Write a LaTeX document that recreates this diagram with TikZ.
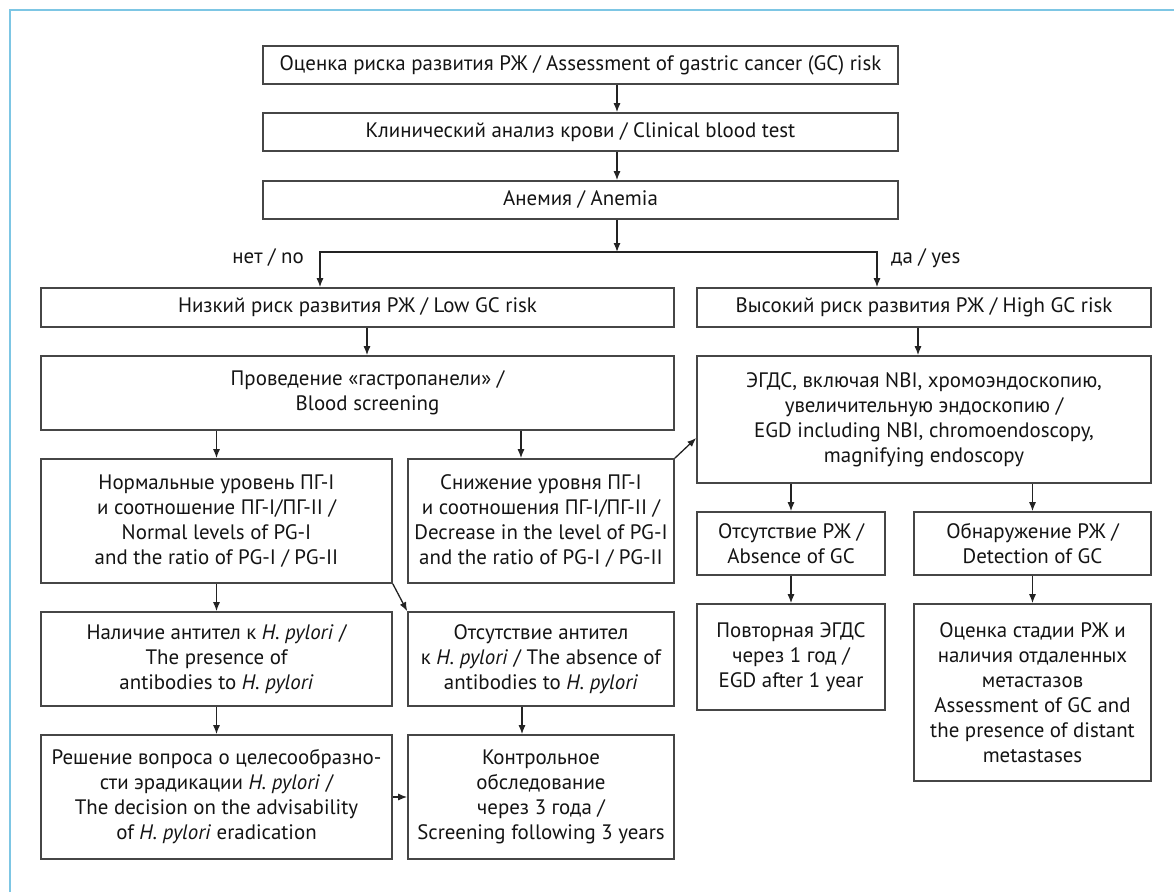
\documentclass[tikz,border=0pt]{standalone}
\usepackage{fontspec}
\setmainfont{PT Sans}
\usetikzlibrary{arrows.meta,calc}
\definecolor{boxgray}{RGB}{70,70,70}
\definecolor{arrgray}{RGB}{35,35,35}
\definecolor{txt}{RGB}{20,20,20}
\definecolor{framec}{RGB}{125,198,228}
\newcommand\myfont{\fontsize{20.9}{25}\selectfont}
\tikzset{
  box/.style={draw=boxgray, line width=1.6pt, fill=white, align=center, inner sep=0pt, text=txt, font=\myfont},
  arr/.style={draw=arrgray, line width=1.3pt, -{Latex[length=9pt,width=7pt]}},
  frameline/.style={draw=framec, line width=2pt},
  lbl/.style={text=txt, font=\myfont, inner sep=0pt}
}
\begin{document}
\begin{tikzpicture}[x=1pt,y=-1pt]
\useasboundingbox[fill=white] (0,0) rectangle (1174,892);
\draw[frameline] (10,892) -- (10,10) -- (1174,10);

\node[box, minimum width=635pt, minimum height=38pt] (b1) at (580.5,65) {Оценка риска развития РЖ / Assessment of gastric cancer (GC) risk};
\node[box, minimum width=635pt, minimum height=38pt] (b2) at (580.5,132) {Клинический анализ крови / Clinical blood test};
\node[box, minimum width=635pt, minimum height=38pt] (b3) at (580.5,200) {Анемия / Anemia};

\node[box, minimum width=633pt, minimum height=39pt] (low) at (357.5,307.5) {Низкий риск развития РЖ / Low GC risk};
\node[box, minimum width=454pt, minimum height=39pt] (high) at (924,307.5) {Высокий риск развития РЖ / High GC risk};

\node[box, minimum width=633pt, minimum height=74pt] (gastro) at (357.5,393) {\hspace*{20pt}Проведение «гастропанели» /\\\hspace*{20pt}Blood screening};
\node[box, minimum width=454pt, minimum height=127pt] (egd) at (924,419.5) {ЭГДС, включая NBI, хромоэндоскопию,\\увеличительную эндоскопию /\\EGD including NBI, chromoendoscopy,\\magnifying endoscopy};

\node[box, minimum width=351pt, minimum height=124pt] (normal) at (216.5,521) {Нормальные уровень ПГ-I\\и соотношение ПГ-I/ПГ-II /\\Normal levels of PG-I\\and the ratio of PG-I / PG-II};
\node[box, minimum width=266pt, minimum height=124pt] (decr) at (541,521) {Снижение уровня ПГ-I\\и соотношения ПГ-I/ПГ-II /\\Decrease in the level of PG-I\\and the ratio of PG-I / PG-II};

\node[box, minimum width=188pt, minimum height=63pt] (absgc) at (791,543.5) {Отсутствие РЖ /\\Absence of GC};
\node[box, minimum width=237pt, minimum height=63pt] (detgc) at (1032.5,543.5) {Обнаружение РЖ /\\Detection of GC};

\node[box, minimum width=188pt, minimum height=106pt] (repeat) at (791,657) {Повторная ЭГДС\\через 1 год /\\EGD after 1 year};
\node[box, minimum width=237pt, minimum height=177pt] (stage) at (1032.5,692.5) {Оценка стадии РЖ и\\наличия отдаленных\\метастазов\\Assessment of GC and\\the presence of distant\\metastases};

\node[box, minimum width=351pt, minimum height=94pt] (pres) at (216.5,659) {Наличие антител к \textit{H. pylori} /\\The presence of\\antibodies to \textit{H. pylori}};
\node[box, minimum width=266pt, minimum height=94pt] (absab) at (541,659) {Отсутствие антител\\к \textit{H. pylori} / The absence of\\antibodies to \textit{H. pylori}};

\node[box, minimum width=351pt, minimum height=124pt] (decis) at (216.5,797) {Решение вопроса о целесообразно-\\сти эрадикации \textit{H. pylori} /\\The decision on the advisability\\of \textit{H. pylori} eradication};
\node[box, minimum width=266pt, minimum height=124pt] (ctrl) at (541,797) {Контрольное\\обследование\\через 3 года /\\Screening following 3 years};

% labels
\node[lbl, anchor=east] (no) at (304,258) {нет / no};
\node[lbl, anchor=west] (yes) at (891,258) {да / yes};

% connectors
\draw[arr] ([xshift=36.5pt]b1.south) -- ([xshift=36.5pt]b2.north);
\draw[arr] ([xshift=36.5pt]b2.south) -- ([xshift=36.5pt]b3.north);
\coordinate (j) at (617,252);
\draw[arr] ([xshift=36.5pt]b3.south) -- (j);
\draw[arr] (j) -| ([xshift=-37.5pt]low.north);
\draw[arr] (j) -| ([xshift=-47pt]high.north);

\draw[arr] ([xshift=9.5pt]low.south) -- ([xshift=9.5pt]gastro.north);
\draw[arr] (gastro.south -| normal.north) -- (normal.north);
\draw[arr] ([xshift=-20pt]decr.north |- gastro.south) -- ([xshift=-20pt]decr.north);
\draw[arr] (decr.north east) -- ([yshift=-18.5pt]egd.west);

\draw[arr] ([xshift=-6pt]high.south) -- ([xshift=-6pt]egd.north);
\draw[arr] (egd.south -| absgc.north) -- (absgc.north);
\draw[arr] (egd.south -| detgc.north) -- (detgc.north);
\draw[arr] (absgc.south) -- (repeat.north);
\draw[arr] (detgc.south) -- (stage.north);

\draw[arr] (normal.south) -- (pres.north);
\draw[arr] (normal.south east) -- (absab.north west);
\draw[arr] (pres.south) -- (decis.north);
\draw[arr] ([xshift=-19pt]absab.south) -- ([xshift=-19pt]ctrl.north);
\draw[arr] (decis.east) -- (ctrl.west);
\end{tikzpicture}
\end{document}
